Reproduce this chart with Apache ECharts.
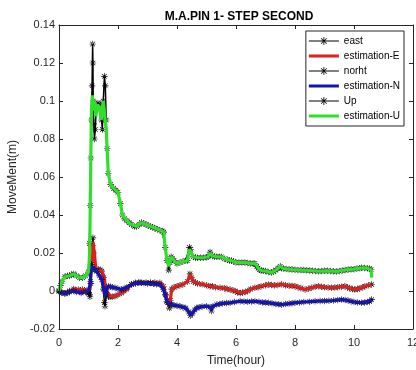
<!DOCTYPE html>
<html><head><meta charset="utf-8">
<script src="https://cdn.jsdelivr.net/npm/echarts@6/dist/echarts.min.js"></script>
<style>html,body{margin:0;padding:0;background:#fff}#c{width:416px;height:370px}</style>
</head><body><div id="c"></div>
<script>
var titleText = 'M.A.PIN 1- STEP SECOND';
var xName = 'Time(hour)';
var yName = 'MoveMent(m)';
var legendNames = ['east','estimation-E','norht','estimation-N','Up','estimation-U'];
var xTicks = [0,2,4,6,8,10,12];
var yTicks = [-0.02,0,0.02,0.04,0.06,0.08,0.1,0.12,0.14];

// [time (hour), movement (m)]
var eastMeas = [[0,0],[0.1,-0.0008],[0.2,-0.0012],[0.35,0],[0.5,0.001],[0.65,0.0008],[0.8,0.0008],[0.95,0.0005],[1.0,-0.001],[1.05,-0.003],[1.08,0.004],[1.1,0.016],[1.13,0.024],[1.15,0.028],[1.18,0.02],[1.22,0.012],[1.28,0.011],[1.33,0.0115],[1.4,0.011],[1.45,0.0105],[1.52,0.007],[1.57,0.002],[1.62,-0.001],[1.68,-0.003],[1.73,-0.003],[1.8,-0.003],[1.9,-0.0027],[2.0,-0.002],[2.12,-0.001],[2.2,0],[2.3,0.001],[2.45,0.0035],[2.6,0.0043],[2.7,0.0045],[2.8,0.0043],[2.95,0.0045],[3.1,0.0043],[3.25,0.0045],[3.42,0.0043],[3.54,0.0025],[3.62,-0.002],[3.68,-0.006],[3.74,-0.009],[3.78,-0.005],[3.82,0.001],[3.9,0.002],[4.0,0.0025],[4.1,0.003],[4.2,0.0034],[4.35,0.005],[4.44,0.009],[4.5,0.007],[4.55,0.005],[4.62,0.0045],[4.7,0.004],[4.85,0.0035],[5.0,0.003],[5.12,0.0025],[5.2,0.0025],[5.3,0.002],[5.46,0.0017],[5.6,0.0015],[5.7,0.001],[5.8,0.0008],[5.9,0.0003],[5.97,0],[6.05,-0.0008],[6.14,-0.001],[6.22,-0.0008],[6.31,-0.0005],[6.4,0],[6.5,0.001],[6.64,0.0017],[6.75,0.002],[6.85,0.0025],[7.0,0.003],[7.1,0.0034],[7.2,0.0032],[7.3,0.003],[7.42,0.0032],[7.55,0.0036],[7.68,0.003],[7.8,0.0028],[7.9,0.0027],[8.0,0.0025],[8.1,0.002],[8.2,0.0015],[8.34,0.0008],[8.45,0.0012],[8.55,0.0017],[8.68,0.0022],[8.79,0.0025],[8.9,0.0022],[9.0,0.002],[9.12,0.0018],[9.24,0.0017],[9.35,0.0018],[9.45,0.002],[9.57,0.0023],[9.69,0.0025],[9.78,0.002],[9.85,0.0015],[9.95,0.001],[10.03,0.0008],[10.12,0.001],[10.2,0.0015],[10.3,0.002],[10.37,0.0025],[10.5,0.003],[10.6,0.0034]];
var eastEst = [[0,0],[0.1,-0.0005],[0.2,-0.001],[0.35,0],[0.5,0.001],[0.65,0.0008],[0.8,0.0008],[0.95,0.0005],[1.0,0],[1.05,0.001],[1.1,0.015],[1.15,0.026],[1.2,0.02],[1.25,0.011],[1.33,0.011],[1.45,0.0105],[1.52,0.008],[1.57,0.003],[1.62,0],[1.73,-0.0028],[1.9,-0.0027],[2.0,-0.002],[2.12,-0.001],[2.3,0.001],[2.45,0.0035],[2.6,0.0043],[2.8,0.0043],[3.1,0.0043],[3.42,0.0043],[3.54,0.0025],[3.62,-0.002],[3.68,-0.006],[3.74,-0.008],[3.78,-0.004],[3.82,0.001],[3.9,0.002],[4.0,0.0025],[4.2,0.0034],[4.35,0.005],[4.44,0.0087],[4.5,0.007],[4.55,0.005],[4.7,0.004],[4.85,0.0035],[5.0,0.003],[5.12,0.0025],[5.3,0.002],[5.46,0.0017],[5.6,0.0015],[5.8,0.0008],[5.97,0],[6.14,-0.001],[6.31,-0.0005],[6.5,0.001],[6.64,0.0017],[6.85,0.0025],[7.1,0.0034],[7.3,0.003],[7.55,0.0034],[7.8,0.0028],[8.0,0.0025],[8.2,0.0015],[8.34,0.0008],[8.55,0.0017],[8.79,0.0025],[9.0,0.002],[9.24,0.0017],[9.45,0.002],[9.69,0.0025],[9.85,0.0015],[10.03,0.0008],[10.2,0.0015],[10.37,0.0025],[10.6,0.0034]];

var northMeas = [[0,0],[0.1,-0.001],[0.2,-0.0013],[0.28,-0.001],[0.35,-0.0005],[0.5,0],[0.6,-0.0005],[0.75,-0.001],[0.9,-0.0005],[1.0,-0.001],[1.04,-0.002],[1.07,0.005],[1.1,0.014],[1.15,0.012],[1.22,0.011],[1.28,0.0104],[1.37,0.008],[1.45,0.006],[1.5,0.001],[1.54,-0.006],[1.56,-0.008],[1.6,-0.002],[1.67,0.0025],[1.75,0.0022],[1.8,0.002],[1.9,0.0017],[2.0,0.0012],[2.12,0.0008],[2.2,0.0012],[2.3,0.002],[2.46,0.0034],[2.6,0.004],[2.75,0.0045],[2.88,0.0042],[3.0,0.004],[3.1,0.0042],[3.2,0.0038],[3.3,0.0036],[3.42,0.0034],[3.54,0.0008],[3.6,-0.002],[3.65,-0.0055],[3.75,-0.007],[3.82,-0.0072],[3.9,-0.0075],[4.0,-0.0078],[4.1,-0.008],[4.2,-0.0085],[4.3,-0.009],[4.4,-0.011],[4.45,-0.013],[4.52,-0.012],[4.6,-0.01],[4.67,-0.0089],[4.75,-0.0085],[4.85,-0.0082],[5.0,-0.008],[5.12,-0.0085],[5.17,-0.0105],[5.22,-0.008],[5.35,-0.0071],[5.45,-0.0068],[5.55,-0.0065],[5.68,-0.0063],[5.8,-0.0062],[5.95,-0.0058],[6.14,-0.0054],[6.27,-0.0055],[6.4,-0.0056],[6.52,-0.0055],[6.64,-0.0054],[6.78,-0.0057],[6.9,-0.006],[7.0,-0.0061],[7.1,-0.0062],[7.22,-0.0065],[7.35,-0.0068],[7.45,-0.007],[7.55,-0.0072],[7.68,-0.0068],[7.8,-0.0066],[7.9,-0.0064],[8.0,-0.0062],[8.15,-0.006],[8.3,-0.0058],[8.5,-0.0056],[8.68,-0.0054],[8.85,-0.0053],[9.0,-0.0052],[9.15,-0.0051],[9.3,-0.005],[9.45,-0.0047],[9.58,-0.0045],[9.7,-0.0047],[9.8,-0.005],[9.9,-0.0054],[10.0,-0.0058],[10.12,-0.006],[10.26,-0.0062],[10.36,-0.006],[10.45,-0.0058],[10.53,-0.0055],[10.6,-0.0045]];
var northEst = [[0,0],[0.1,-0.001],[0.2,-0.0013],[0.35,-0.0005],[0.5,0],[0.6,-0.0005],[0.75,-0.001],[0.9,-0.0005],[1.0,0],[1.05,0.003],[1.1,0.013],[1.15,0.012],[1.28,0.0104],[1.37,0.008],[1.45,0.006],[1.5,0.002],[1.56,-0.003],[1.62,0.001],[1.67,0.0025],[1.8,0.002],[1.9,0.0017],[2.12,0.0008],[2.3,0.002],[2.46,0.0034],[2.6,0.004],[2.75,0.0043],[3.0,0.004],[3.2,0.0038],[3.42,0.0034],[3.54,0.0008],[3.6,-0.002],[3.65,-0.0054],[3.75,-0.0068],[3.82,-0.0071],[4.0,-0.0078],[4.1,-0.008],[4.3,-0.009],[4.4,-0.011],[4.45,-0.0124],[4.52,-0.0115],[4.67,-0.0089],[4.85,-0.0082],[5.0,-0.008],[5.12,-0.0085],[5.17,-0.0097],[5.22,-0.008],[5.35,-0.0071],[5.55,-0.0065],[5.8,-0.0062],[6.14,-0.0054],[6.4,-0.0056],[6.64,-0.0054],[6.9,-0.006],[7.1,-0.0062],[7.35,-0.0068],[7.55,-0.0071],[7.8,-0.0066],[8.0,-0.0062],[8.3,-0.0058],[8.68,-0.0054],[9.0,-0.0052],[9.3,-0.005],[9.58,-0.0045],[9.8,-0.005],[10.0,-0.0058],[10.26,-0.0062],[10.45,-0.0058],[10.6,-0.0045]];

var upMeas = [[0,0],[0.05,0.003],[0.1,0.005],[0.2,0.0075],[0.28,0.008],[0.35,0.008],[0.42,0.0085],[0.5,0.009],[0.6,0.008],[0.7,0.007],[0.8,0.007],[0.9,0.008],[1.0,0.01],[1.03,0.025],[1.06,0.045],[1.08,0.07],[1.1,0.09],[1.12,0.108],[1.14,0.13],[1.15,0.12],[1.16,0.1],[1.18,0.088],[1.2,0.08],[1.23,0.085],[1.26,0.096],[1.32,0.099],[1.4,0.098],[1.44,0.09],[1.47,0.085],[1.5,0.1],[1.54,0.113],[1.57,0.108],[1.6,0.09],[1.63,0.075],[1.67,0.062],[1.75,0.056],[1.85,0.054],[1.93,0.053],[2.0,0.052],[2.08,0.046],[2.15,0.04],[2.22,0.038],[2.3,0.037],[2.38,0.036],[2.45,0.035],[2.55,0.034],[2.63,0.034],[2.72,0.035],[2.8,0.036],[2.88,0.0355],[2.95,0.035],[3.02,0.0345],[3.1,0.034],[3.18,0.0335],[3.25,0.033],[3.33,0.0325],[3.42,0.032],[3.5,0.0315],[3.55,0.031],[3.6,0.023],[3.66,0.016],[3.72,0.011],[3.76,0.015],[3.8,0.018],[3.85,0.017],[3.9,0.016],[4.0,0.0145],[4.1,0.015],[4.2,0.0155],[4.3,0.016],[4.35,0.016],[4.42,0.023],[4.47,0.022],[4.55,0.018],[4.62,0.0175],[4.7,0.0175],[4.8,0.0175],[4.9,0.0175],[5.0,0.0178],[5.05,0.018],[5.12,0.0205],[5.2,0.0185],[5.28,0.018],[5.35,0.018],[5.43,0.018],[5.5,0.018],[5.6,0.017],[5.7,0.0165],[5.78,0.016],[5.85,0.016],[5.92,0.0155],[6.0,0.015],[6.1,0.015],[6.2,0.015],[6.3,0.015],[6.4,0.0148],[6.5,0.0145],[6.58,0.0145],[6.64,0.0145],[6.7,0.013],[6.75,0.012],[6.8,0.0112],[6.85,0.0108],[6.92,0.0106],[7.0,0.0105],[7.1,0.01],[7.2,0.0097],[7.28,0.0102],[7.35,0.011],[7.42,0.012],[7.5,0.013],[7.55,0.012],[7.6,0.0118],[7.7,0.0116],[7.8,0.0115],[7.9,0.0113],[8.0,0.0112],[8.1,0.0111],[8.2,0.011],[8.3,0.011],[8.4,0.0109],[8.5,0.0108],[8.6,0.0107],[8.7,0.0105],[8.8,0.0104],[8.9,0.0105],[9.0,0.0106],[9.1,0.0106],[9.2,0.0105],[9.3,0.0104],[9.4,0.0103],[9.5,0.0105],[9.6,0.0108],[9.7,0.011],[9.8,0.0113],[9.9,0.0114],[10.0,0.0115],[10.1,0.0118],[10.2,0.012],[10.26,0.0122],[10.35,0.0121],[10.45,0.012],[10.52,0.0117],[10.58,0.0113]];
var upEst = [[0,0],[0.05,0.003],[0.1,0.005],[0.2,0.0075],[0.35,0.008],[0.5,0.009],[0.6,0.008],[0.7,0.007],[0.8,0.007],[0.9,0.008],[1.0,0.01],[1.04,0.02],[1.07,0.06],[1.1,0.095],[1.13,0.103],[1.17,0.095],[1.2,0.1],[1.25,0.092],[1.3,0.098],[1.37,0.097],[1.43,0.09],[1.5,0.1],[1.55,0.1],[1.6,0.085],[1.67,0.062],[1.75,0.056],[1.85,0.054],[2.0,0.052],[2.08,0.046],[2.15,0.04],[2.3,0.037],[2.45,0.035],[2.63,0.034],[2.8,0.036],[2.95,0.035],[3.1,0.034],[3.25,0.033],[3.42,0.032],[3.55,0.031],[3.6,0.023],[3.66,0.016],[3.72,0.013],[3.8,0.018],[3.9,0.016],[4.0,0.0145],[4.2,0.0155],[4.35,0.016],[4.42,0.022],[4.47,0.022],[4.55,0.018],[4.7,0.0175],[4.9,0.0175],[5.05,0.018],[5.12,0.02],[5.2,0.0185],[5.35,0.018],[5.5,0.018],[5.7,0.0165],[5.85,0.016],[6.0,0.015],[6.3,0.015],[6.5,0.0145],[6.64,0.0145],[6.75,0.012],[6.85,0.0108],[7.0,0.0105],[7.2,0.0097],[7.35,0.011],[7.5,0.013],[7.6,0.0118],[7.9,0.0113],[8.2,0.011],[8.5,0.0108],[8.8,0.0104],[9.1,0.0106],[9.4,0.0103],[9.6,0.0108],[9.8,0.0113],[10.0,0.0115],[10.26,0.0122],[10.45,0.012],[10.58,0.0113],[10.6,0.007]];

var STAR = 'path://M-1,-10L1,-10L1,10L-1,10Z M-10,-1L10,-1L10,1L-10,1Z M-7.8,-6.4L6.4,7.8L7.8,6.4L-6.4,-7.8Z M-6.4,7.8L7.8,-6.4L6.4,-7.8L-7.8,6.4Z';
// legend icons in a 30x12 box (tiny corner specks fix the bounding box)
var SPECKS = 'M0,0L0.01,0L0,0.01Z M30,12L29.99,12L30,11.99Z ';
var ICON_MEAS = 'path://' + SPECKS +
  'M0,5.5L30,5.5L30,6.5L0,6.5Z ' +
  'M14.6,2L15.4,2L15.4,10L14.6,10Z M11,5.6L19,5.6L19,6.4L11,6.4Z ' +
  'M11.89,3.45L17.55,9.11L18.11,8.55L12.45,2.89Z M12.45,9.11L18.11,3.45L17.55,2.89L11.89,8.55Z';
var ICON_EST = 'path://' + SPECKS + 'M0,4.5L30,4.5L30,7.5L0,7.5Z';
var AX = '#262626';
var FONT = '"Liberation Sans", Arial, sans-serif';

function measSeries(name, data, z) {
  return {name: name, type: 'line', data: data, xAxisIndex: 0, yAxisIndex: 0, z: z,
    symbol: STAR, symbolSize: 6.5, showAllSymbol: true, silent: true,
    itemStyle: {color: '#000'}, lineStyle: {color: '#000', width: 1.5}, animation: false};
}
function estSeries(name, data, color, z) {
  return {name: name, type: 'line', data: data, xAxisIndex: 0, yAxisIndex: 0, z: z,
    symbol: 'none', silent: true, itemStyle: {color: color},
    lineStyle: {color: color, width: 3.2}, animation: false};
}
function axisCommon(extra) {
  var base = {
    axisLine: {show: true, onZero: false, lineStyle: {color: AX, width: 1}},
    axisTick: {show: true, inside: true, length: 4, lineStyle: {color: AX}},
    splitLine: {show: false}, z: 20
  };
  for (var k in extra) base[k] = extra[k];
  return base;
}

var chart = echarts.init(document.getElementById('c'), null, {renderer: 'canvas'});
var xMin = xTicks[0], xMax = xTicks[xTicks.length - 1];
var yMin = yTicks[0], yMax = yTicks[yTicks.length - 1];

chart.setOption({
  animation: false,
  backgroundColor: '#fff',
  title: {text: titleText, left: 234, top: 6, textAlign: 'center',
    textStyle: {fontFamily: FONT, fontSize: 12, fontWeight: 'bold', color: '#000'}},
  grid: {left: 59, right: 3, top: 25, bottom: 41, containLabel: false, outerBoundsMode: 'none'},
  legend: {
    orient: 'vertical', right: 12, top: 31, padding: [4, 4, 4, 3], itemGap: 3, z: 30,
    itemWidth: 30, itemHeight: 12, backgroundColor: '#fff', borderColor: AX, borderWidth: 1,
    borderRadius: 0, textStyle: {fontFamily: FONT, fontSize: 10, color: '#000'},
    selectedMode: false,
    data: legendNames.map(function (n, i) {
      return {name: n, icon: i % 2 === 0 ? ICON_MEAS : ICON_EST};
    })
  },
  xAxis: [
    axisCommon({type: 'value', min: xMin, max: xMax, interval: 2, position: 'bottom',
      name: xName, nameLocation: 'middle', nameGap: 26,
      nameTextStyle: {fontFamily: FONT, fontSize: 12, color: AX},
      axisLabel: {fontFamily: FONT, fontSize: 11, color: AX, margin: 8}}),
    axisCommon({type: 'value', min: xMin, max: xMax, interval: 2, position: 'top',
      axisLabel: {show: false}})
  ],
  yAxis: [
    axisCommon({type: 'value', min: yMin, max: yMax, interval: 0.02, position: 'left',
      name: yName, nameLocation: 'middle', nameGap: 34,
      nameTextStyle: {fontFamily: FONT, fontSize: 12, color: AX},
      axisLabel: {fontFamily: FONT, fontSize: 11, color: AX, margin: 4,
        formatter: function (v) { return String(Math.round(v * 100) / 100); }}}),
    axisCommon({type: 'value', min: yMin, max: yMax, interval: 0.02, position: 'right',
      axisLabel: {show: false}})
  ],
  series: [
    measSeries(legendNames[0], eastMeas, 2),
    estSeries(legendNames[1], eastEst, '#e01e1e', 3),
    measSeries(legendNames[2], northMeas, 4),
    estSeries(legendNames[3], northEst, '#1414b4', 5),
    measSeries(legendNames[4], upMeas, 6),
    estSeries(legendNames[5], upEst, '#2ee02a', 7)
  ]
});
</script></body></html>
